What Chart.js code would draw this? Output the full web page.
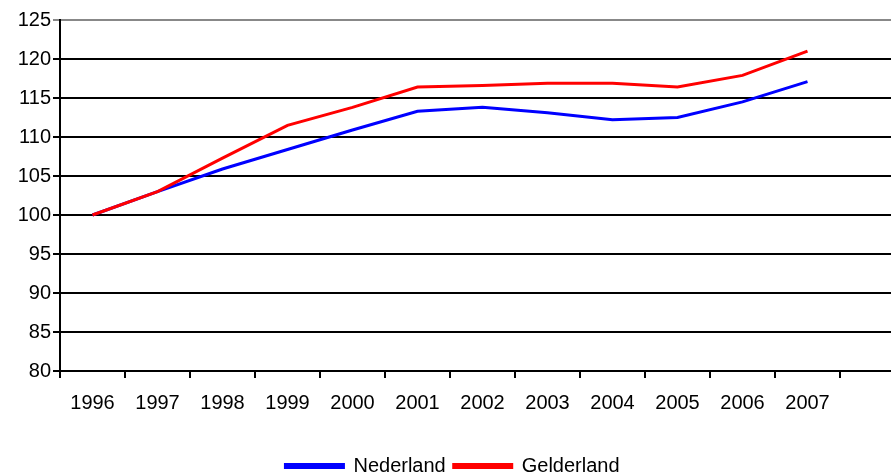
<!DOCTYPE html>
<html>
<head>
<meta charset="utf-8">
<script src="https://cdn.jsdelivr.net/npm/chart.js@4"></script>
<style>
  html, body { margin: 0; padding: 0; background: #fff; overflow: hidden; }
  #wrap { width: 905px; height: 488px; position: relative; }
</style>
</head>
<body>
<div id="wrap"><canvas id="chart"></canvas></div>
<script>
// years on the x axis (last slot is empty, cut off at the right edge)
const years = ["1996", "1997", "1998", "1999", "2000", "2001", "2002", "2003", "2004", "2005", "2006", "2007", ""];
const nederland = [100, 103.0, 105.9, 108.4, 110.9, 113.3, 113.8, 113.1, 112.2, 112.5, 114.5, 117.1, null];
const gelderland = [100, 103.0, 107.3, 111.5, 113.8, 116.4, 116.6, 116.9, 116.9, 116.4, 117.9, 121.0, null];
const yTicks = { min: 80, max: 125, step: 5 };

const font = { family: "'Liberation Sans', Arial, sans-serif", size: 20 };

new Chart(document.getElementById("chart").getContext("2d"), {
    type: "line",
    data: {
        labels: years,
        datasets: [{
            label: "Nederland",
            data: nederland,
            borderColor: "#0000ff",
            backgroundColor: "#0000ff",
            borderWidth: 3,
            pointRadius: 0,
            tension: 0,
            order: 1
        }, {
            label: "Gelderland",
            data: gelderland,
            borderColor: "#ff0000",
            backgroundColor: "#ff0000",
            borderWidth: 3,
            pointRadius: 0,
            tension: 0,
            order: 0
        }]
    },
    options: {
        responsive: true,
        maintainAspectRatio: false,
        animation: false,
        layout: { padding: { top: 20, left: 0, right: 0, bottom: 2 } },
        plugins: {
            tooltip: { enabled: false },
            legend: {
                position: "bottom",
                labels: {
                    color: "#000",
                    font: font,
                    boxWidth: 58,
                    boxHeight: 3,
                    padding: 8,
                    sort: (a, b) => a.datasetIndex - b.datasetIndex
                }
            }
        },
        scales: {
            x: {
                offset: true,
                grid: {
                    display: true,
                    drawOnChartArea: false,
                    color: "#000",
                    lineWidth: 2,
                    tickLength: 7,
                    offset: true
                },
                border: { color: "#000", width: 2 },
                ticks: { color: "#000", font: font, padding: 13, maxRotation: 0, autoSkip: false },
                afterFit: (scale) => { scale.height = 77; }
            },
            y: {
                min: yTicks.min,
                max: yTicks.max,
                grid: {
                    color: (ctx) => ctx.tick && ctx.tick.value === yTicks.max ? "#888" : "#000",
                    lineWidth: 2,
                    tickLength: 7
                },
                border: { color: "#000", width: 2 },
                ticks: { stepSize: yTicks.step, color: "#000", font: font, padding: 2 },
                afterFit: (scale) => { scale.width = 60; }
            }
        }
    }
});
</script>
</body>
</html>
